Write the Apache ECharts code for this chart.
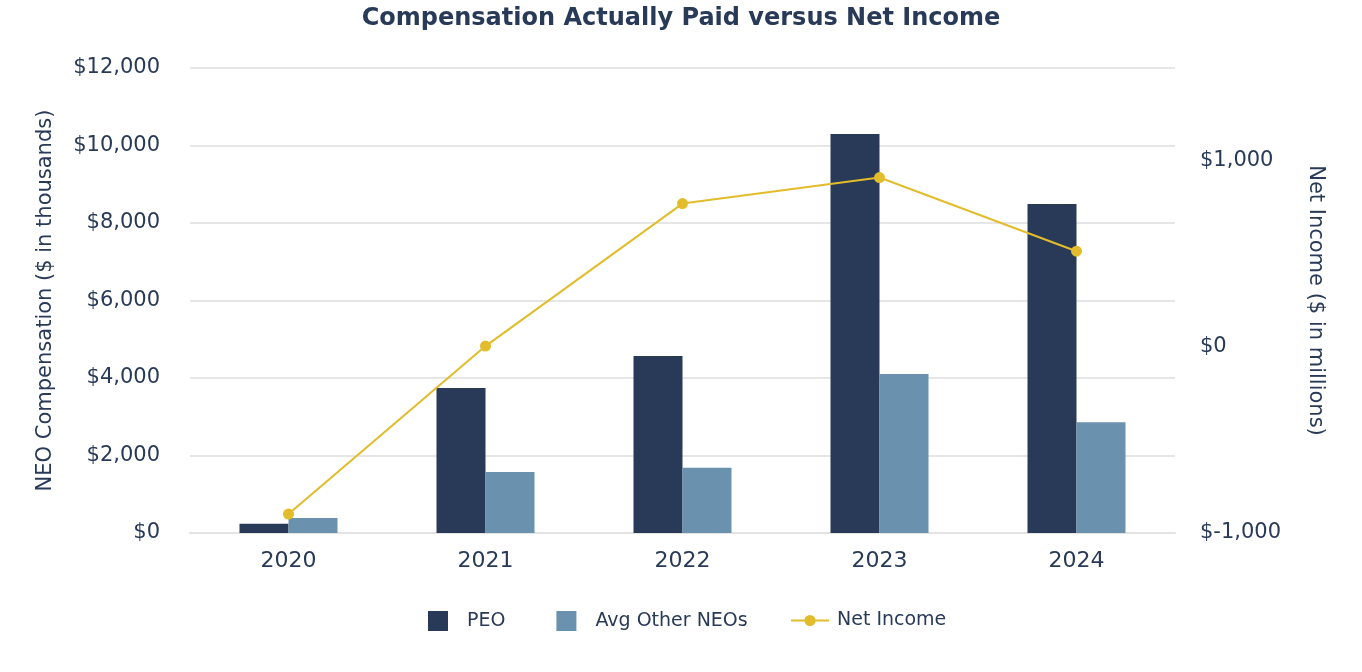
<!DOCTYPE html>
<html>
<head>
<meta charset="utf-8">
<script src="https://cdn.jsdelivr.net/npm/echarts@6/dist/echarts.min.js"></script>
<style>html,body{margin:0;padding:0;background:#fff;}#c{width:1362px;height:672px;}</style>
</head>
<body>
<div id="c"></div>
<script>
var categories = ['2020', '2021', '2022', '2023', '2024'];
var peo = [240, 3745, 4570, 10300, 8490];
var avgOther = [385, 1575, 1685, 4105, 2860];
var netIncome = [-898, 5, 771, 911, 515];
var leftTicks = [0, 2000, 4000, 6000, 8000, 10000, 12000];
var rightTicks = [-1000, 0, 1000];

var dark = '#283a57';
var font = 'DejaVu Sans';
function money(v){ return '$' + v.toLocaleString('en-US'); }

var chart = echarts.init(document.getElementById('c'));
chart.setOption({
  backgroundColor: '#fff',
  textStyle: { fontFamily: font, color: dark },
  title: {
    text: 'Compensation Actually Paid versus Net Income',
    left: 'center', top: 2,
    textStyle: { fontFamily: font, fontSize: 24, fontWeight: 'bold', color: dark }
  },
  legend: [
    {
      left: 423, top: 606,
      itemWidth: 20, itemHeight: 20, itemGap: 51,
      textStyle: { fontFamily: font, fontSize: 19, color: dark, padding: [0, 0, 0, 14] },
      data: [
        { name: 'PEO', icon: 'rect' },
        { name: 'Avg Other NEOs', icon: 'rect' }
      ]
    },
    {
      left: 785, top: 606,
      itemWidth: 38, itemHeight: 14,
      textStyle: { fontFamily: font, fontSize: 19, color: dark, padding: [0, 0, 0, 3] },
      data: [ { name: 'Net Income' } ]
    }
  ],
  grid: { left: 190, right: 187, top: 68, bottom: 139 },
  xAxis: {
    type: 'category', data: categories,
    axisLine: { show: true, lineStyle: { color: '#e3e3e3', width: 2 } },
    axisTick: { show: false },
    axisLabel: { fontFamily: font, fontSize: 22, color: dark, margin: 17 }
  },
  yAxis: [
    {
      type: 'value', min: leftTicks[0], max: leftTicks[leftTicks.length - 1], interval: 2000,
      name: 'NEO Compensation ($ in thousands)', nameLocation: 'middle', nameGap: 134,
      nameTextStyle: { fontFamily: font, fontSize: 21, color: dark },
      axisLine: { show: false }, axisTick: { show: false },
      axisLabel: { fontFamily: font, fontSize: 21, color: dark, margin: 30, padding: [4, 0, 0, 0], formatter: money },
      splitLine: { lineStyle: { color: '#e6e6e6', width: 2 } }
    },
    {
      type: 'value', min: -1000, max: 1500, interval: 500, position: 'right',
      name: 'Net Income ($ in millions)', nameLocation: 'middle', nameGap: 130, nameRotate: -90,
      nameTextStyle: { fontFamily: font, fontSize: 21, color: dark },
      axisLine: { show: false }, axisTick: { show: false },
      axisLabel: { fontFamily: font, fontSize: 21, color: dark, margin: 25, padding: [4, 0, 0, 0],
        formatter: function (v) { return rightTicks.indexOf(v) >= 0 ? money(v) : ''; } },
      splitLine: { show: false }
    }
  ],
  series: [
    { name: 'PEO', type: 'bar', data: peo, barWidth: 49, barGap: '0%', itemStyle: { color: dark } },
    { name: 'Avg Other NEOs', type: 'bar', data: avgOther, barWidth: 49, itemStyle: { color: '#6a91ae' } },
    { name: 'Net Income', type: 'line', yAxisIndex: 1, data: netIncome,
      symbol: 'circle', symbolSize: 11,
      lineStyle: { color: '#e2bc2a', width: 2 }, itemStyle: { color: '#e2bc2a' } }
  ]
});
</script>
</body>
</html>
